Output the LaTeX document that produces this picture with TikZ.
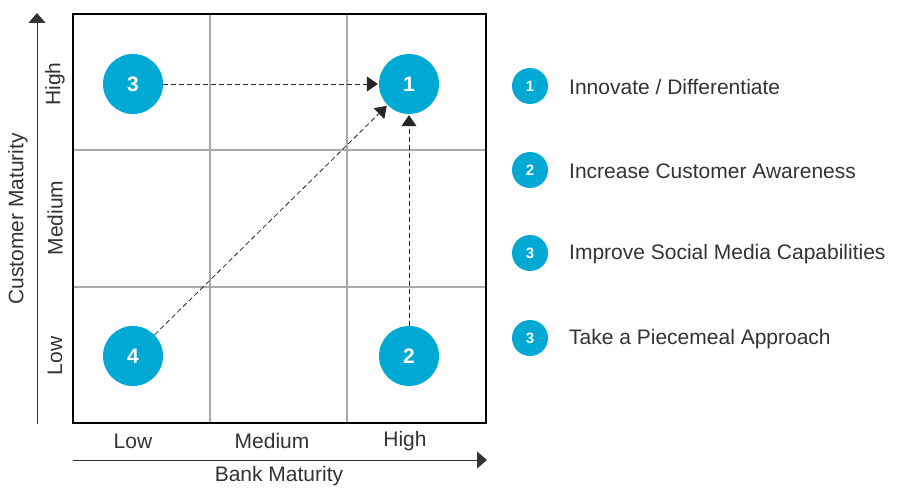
\documentclass[tikz,border=0pt]{standalone}
\usepackage{fontspec}
\setmainfont{Liberation Sans}
\usetikzlibrary{arrows.meta}
\definecolor{bubblecyan}{HTML}{00A8D4}
\definecolor{inkgray}{HTML}{333333}
\definecolor{linegray}{HTML}{A7A9AC}

\begin{document}
\begin{tikzpicture} [x=1pt,y=-1pt,thin,
		bubble/.style={circle,fill=bubblecyan,minimum size=60pt,inner sep=0pt,text=white,font=\fontsize{21}{25}\selectfont\bfseries},
		keybubble/.style={circle,fill=bubblecyan,minimum size=36pt,inner sep=0pt,text=white,font=\fontsize{15}{18}\selectfont\bfseries},
		flow/.style={-{Triangle[length=11pt,width=15pt]},dash pattern=on 5pt off 3pt,black!85,line width=0.8pt,shorten >=1pt},
		axis/.style={-{Triangle[length=10pt,width=17pt]},inkgray,line width=0.8pt},
		gridline/.style={linegray,line width=2pt},
		frame/.style={black,line width=2.4pt},
		lbl/.style={text=inkgray,font=\fontsize{21}{25}\selectfont,inner sep=0pt},
		keytext/.style={lbl,anchor=west}]

		\useasboundingbox (0,0) rectangle (901,487);

		% matrix
		\draw [gridline] (210,14) -- (210,423);
		\draw [gridline] (347,14) -- (347,423);
		\draw [gridline] (73,150) -- (486,150);
		\draw [gridline] (73,287) -- (486,287);
		\draw [frame] (73,14) rectangle (486,423);

		% axes
		\coordinate (ybase) at (37,424);
		\coordinate (ytip) at (37,13);
		\coordinate (xbase) at (73,460);
		\coordinate (xtip) at (487,460);
		\draw [axis] (ybase) -- (ytip);
		\draw [axis] (xbase) -- (xtip);

		\node [lbl] (xlow) at (133,441) {Low};
		\node [lbl] (xmed) at (272,441) {Medium};
		\node [lbl] (xhigh) at (405,441) {High};
		\node [lbl] (xtitle) at (279,476) {Bank Maturity};
		\node [lbl,rotate=90] (yhigh) at (55,84) {High};
		\node [lbl,rotate=90] (ymed) at (55,218) {Medium};
		\node [lbl,rotate=90] (ylow) at (55,356) {Low};
		\node [lbl,rotate=90] (ytitle) at (18,219) {Customer Maturity};

		% bubbles
		\node [bubble] (b3) at (133,84) {3};
		\node [bubble] (b1) at (409,84) {1};
		\node [bubble] (b4) at (133,356) {4};
		\node [bubble] (b2) at (409,356) {2};
		\draw [flow] (b3) -- (b1);
		\draw [flow] (b2) -- (b1);
		\draw [flow] (b4) -- (b1);

		% legend
		\node [keybubble] (k1) at (530,86) {1};
		\node [keybubble] (k2) at (530,170) {2};
		\node [keybubble] (k3) at (530,253) {3};
		\node [keybubble] (k4) at (530,338) {3};
		\node [keytext] (t1) at (569,87) {Innovate / Differentiate};
		\node [keytext] (t2) at (569,171) {Increase Customer Awareness};
		\node [keytext] (t3) at (569,254) {Improve Social Media Capabilities};
		\node [keytext] (t4) at (569,339) {Take a Piecemeal Approach};
		\end{tikzpicture}
\end{document}
